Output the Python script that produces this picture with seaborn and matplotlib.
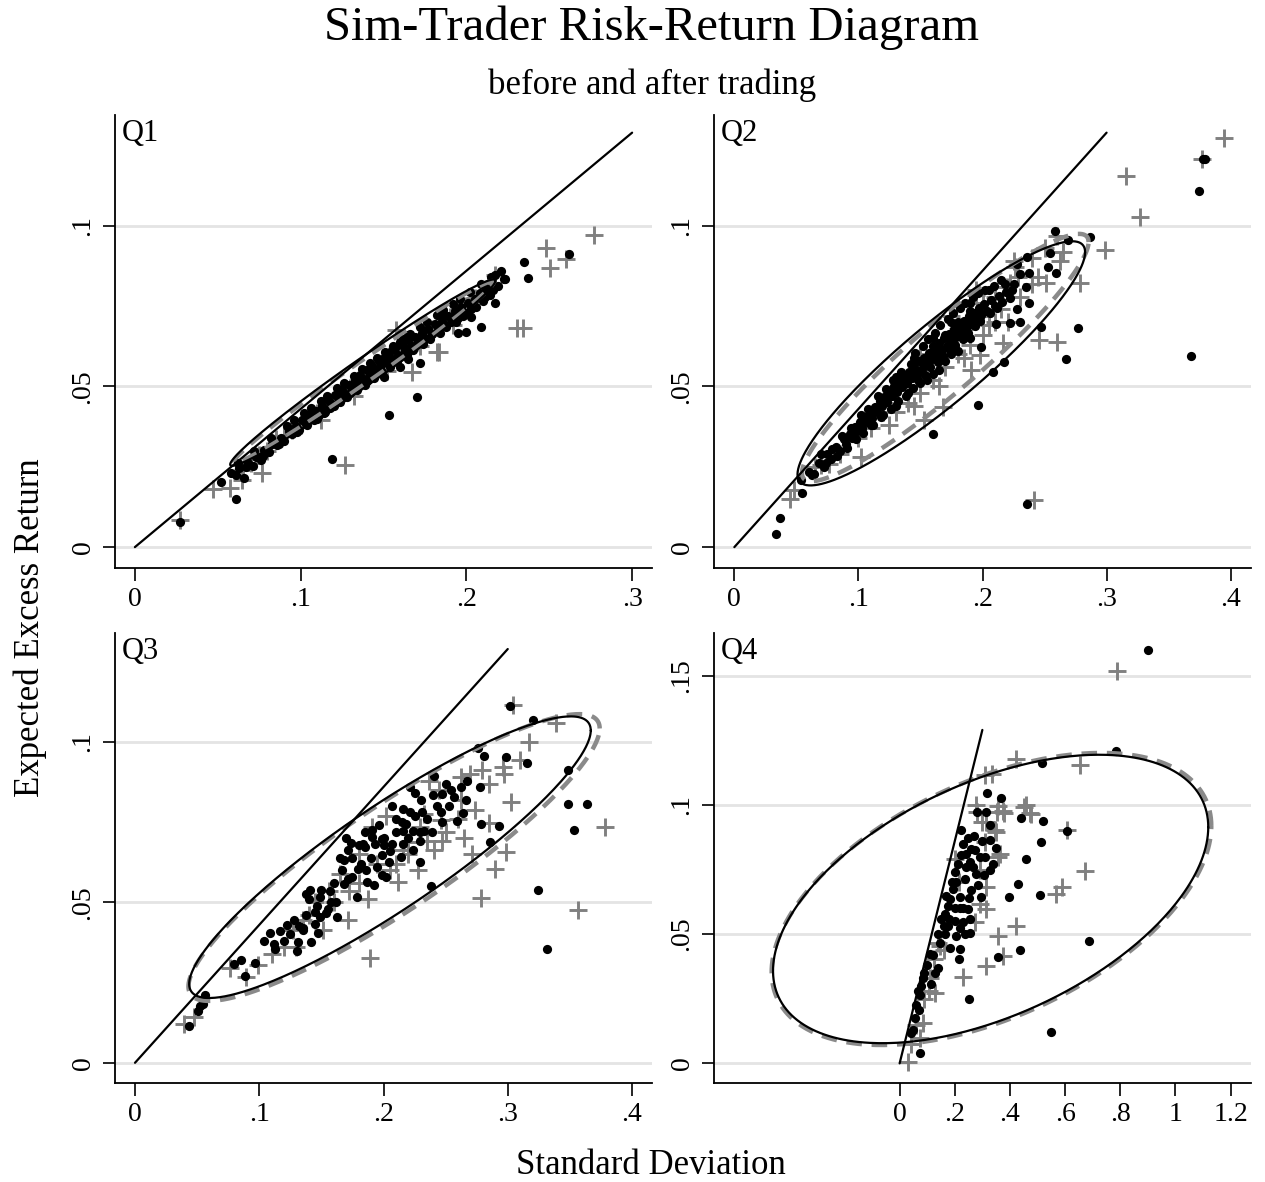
import numpy as np
import pandas as pd
import matplotlib
matplotlib.use("Agg")
import matplotlib.pyplot as plt
import seaborn as sns

sns.set_theme(style="white")
plt.rcParams['font.family'] = ['Liberation Serif', 'DejaVu Serif']
plt.rcParams['text.color'] = 'black'
plt.rcParams['xtick.color'] = 'black'
plt.rcParams['ytick.color'] = 'black'
plt.rcParams['axes.labelcolor'] = 'black'

# ---------------- data ----------------
panel_names = ["Q1", "Q2", "Q3", "Q4"]

# black dots (after trading)
q1_dot = [(0.027, 0.0078), (0.052, 0.0203), (0.061, 0.0151), (0.058, 0.0232), (0.061, 0.0226), (0.063, 0.0245),
          (0.066, 0.0215), (0.068, 0.0262), (0.071, 0.0252), (0.073, 0.0281), (0.076, 0.0270), (0.078, 0.0302),
          (0.081, 0.0296), (0.083, 0.0320), (0.086, 0.0318), (0.088, 0.0340), (0.090, 0.0331), (0.093, 0.0362),
          (0.095, 0.0352), (0.097, 0.0378), (0.099, 0.0366), (0.101, 0.0395), (0.103, 0.0382), (0.105, 0.0410),
          (0.107, 0.0398), (0.109, 0.0425), (0.111, 0.0412), (0.113, 0.0440), (0.115, 0.0428), (0.117, 0.0455),
          (0.119, 0.0445), (0.121, 0.0472), (0.123, 0.0458), (0.125, 0.0490), (0.127, 0.0476), (0.129, 0.0505),
          (0.131, 0.0492), (0.133, 0.0522), (0.134, 0.0508), (0.136, 0.0535), (0.138, 0.0520), (0.140, 0.0550),
          (0.141, 0.0532), (0.143, 0.0563), (0.145, 0.0548), (0.147, 0.0578), (0.148, 0.0560), (0.150, 0.0590),
          (0.152, 0.0572), (0.153, 0.0605), (0.155, 0.0585), (0.157, 0.0620), (0.159, 0.0598), (0.161, 0.0628),
          (0.163, 0.0610), (0.165, 0.0645), (0.167, 0.0625), (0.169, 0.0655), (0.171, 0.0640), (0.173, 0.0668),
          (0.175, 0.0652), (0.177, 0.0680), (0.179, 0.0662), (0.181, 0.0695), (0.183, 0.0675), (0.185, 0.0705),
          (0.187, 0.0688), (0.189, 0.0720), (0.191, 0.0700), (0.193, 0.0735), (0.195, 0.0712), (0.197, 0.0748),
          (0.199, 0.0728), (0.201, 0.0760), (0.203, 0.0742), (0.205, 0.0772), (0.208, 0.0790), (0.210, 0.0765),
          (0.212, 0.0805), (0.214, 0.0785), (0.217, 0.0847), (0.223, 0.0833), (0.217, 0.0759), (0.209, 0.0684),
          (0.195, 0.0665), (0.200, 0.0670), (0.203, 0.0717), (0.170, 0.0468), (0.1535, 0.0411), (0.119, 0.0273),
          (0.2348, 0.0889), (0.237, 0.0837), (0.262, 0.0912), (0.2234, 0.0834), (0.172, 0.0572), (0.165, 0.0585),
          (0.160, 0.0560), (0.150, 0.0530), (0.120, 0.0440), (0.125, 0.0465), (0.130, 0.0480), (0.135, 0.0500),
          (0.140, 0.0518), (0.145, 0.0540), (0.110, 0.0400), (0.115, 0.0420), (0.155, 0.0612), (0.160, 0.0640),
          (0.165, 0.0660), (0.185, 0.0720),
          (0.062, 0.0262), (0.067, 0.0250), (0.072, 0.0300), (0.077, 0.0285), (0.082, 0.0340), (0.087, 0.0322),
          (0.092, 0.0378), (0.096, 0.0395), (0.098, 0.0358), (0.102, 0.0418), (0.104, 0.0380), (0.106, 0.0432),
          (0.108, 0.0396), (0.112, 0.0455), (0.114, 0.0418), (0.116, 0.0470), (0.118, 0.0432), (0.122, 0.0494),
          (0.124, 0.0452), (0.126, 0.0510), (0.128, 0.0468), (0.132, 0.0534), (0.134, 0.0490), (0.137, 0.0553),
          (0.139, 0.0505), (0.142, 0.0572), (0.144, 0.0525), (0.146, 0.0588), (0.149, 0.0545), (0.151, 0.0606),
          (0.154, 0.0562), (0.156, 0.0625), (0.158, 0.0578), (0.162, 0.0648), (0.164, 0.0598), (0.166, 0.0662),
          (0.168, 0.0612), (0.172, 0.0685), (0.174, 0.0632), (0.176, 0.0700), (0.178, 0.0648), (0.182, 0.0722),
          (0.184, 0.0668), (0.186, 0.0738), (0.188, 0.0685), (0.192, 0.0758), (0.194, 0.0700), (0.196, 0.0772),
          (0.198, 0.0718), (0.202, 0.0795), (0.206, 0.0748), (0.209, 0.0820), (0.211, 0.0778), (0.215, 0.0840),
          (0.219, 0.0812), (0.221, 0.0860), (0.216, 0.0800), (0.143, 0.0540), (0.153, 0.0575), (0.163, 0.0620),
          (0.173, 0.0650), (0.183, 0.0690), (0.193, 0.0722), (0.133, 0.0515), (0.123, 0.0475), (0.113, 0.0430),
          (0.103, 0.0395)]

q2_dot = [(0.0339, 0.0040), (0.0367, 0.0091), (0.0543, 0.0168), (0.0537, 0.0208), (0.0622, 0.0224), (0.236, 0.0135),
          (0.1603, 0.0351), (0.1965, 0.0442), (0.2671, 0.0584), (0.277, 0.0683), (0.368, 0.0596), (0.3746, 0.1109),
          (0.3775, 0.1208), (0.3795, 0.1208), (0.2864, 0.0965), (0.2587, 0.0985), (0.2686, 0.0956), (0.236, 0.0904),
          (0.2544, 0.0915), (0.253, 0.0873), (0.2595, 0.0852), (0.2375, 0.0854), (0.2375, 0.0761), (0.2468, 0.0686),
          (0.2304, 0.0702), (0.2225, 0.0699), (0.2177, 0.0577), (0.2086, 0.0546), (0.1984, 0.0624), (0.2112, 0.0694),
          (0.2281, 0.0742),
          (0.060, 0.0235), (0.064, 0.0228), (0.068, 0.0262), (0.072, 0.0250), (0.075, 0.0290), (0.078, 0.0275),
          (0.082, 0.0312), (0.085, 0.0300), (0.088, 0.0335), (0.090, 0.0320), (0.093, 0.0352), (0.095, 0.0340),
          (0.097, 0.0375), (0.099, 0.0360), (0.101, 0.0388), (0.103, 0.0372), (0.105, 0.0405), (0.107, 0.0390),
          (0.109, 0.0418), (0.111, 0.0402), (0.113, 0.0435), (0.115, 0.0420), (0.117, 0.0455), (0.119, 0.0440),
          (0.121, 0.0468), (0.123, 0.0452), (0.125, 0.0485), (0.127, 0.0470), (0.129, 0.0500), (0.131, 0.0482),
          (0.133, 0.0515), (0.135, 0.0498), (0.137, 0.0530), (0.139, 0.0510), (0.141, 0.0545), (0.143, 0.0525),
          (0.145, 0.0560), (0.147, 0.0540), (0.149, 0.0578), (0.151, 0.0555), (0.153, 0.0590), (0.155, 0.0570),
          (0.157, 0.0605), (0.159, 0.0585), (0.161, 0.0620), (0.163, 0.0598), (0.165, 0.0635), (0.167, 0.0612),
          (0.169, 0.0650), (0.171, 0.0625), (0.173, 0.0662), (0.175, 0.0640), (0.177, 0.0678), (0.179, 0.0655),
          (0.181, 0.0690), (0.183, 0.0668), (0.185, 0.0705), (0.187, 0.0682), (0.189, 0.0718), (0.191, 0.0695),
          (0.193, 0.0730), (0.195, 0.0710), (0.197, 0.0745), (0.199, 0.0722), (0.201, 0.0758), (0.204, 0.0735),
          (0.207, 0.0770), (0.210, 0.0750), (0.213, 0.0782), (0.216, 0.0762), (0.219, 0.0795), (0.222, 0.0775),
          (0.160, 0.0540), (0.150, 0.0510), (0.140, 0.0480), (0.170, 0.0580), (0.180, 0.0610), (0.120, 0.0410),
          (0.130, 0.0440), (0.110, 0.0380), (0.190, 0.0650), (0.175, 0.0600), (0.165, 0.0550), (0.155, 0.0520),
          (0.130, 0.0530), (0.145, 0.0590), (0.160, 0.0650), (0.175, 0.0700), (0.190, 0.0760), (0.205, 0.0800),
          (0.215, 0.0830), (0.225, 0.0820), (0.230, 0.0850), (0.235, 0.0810), (0.228, 0.0880),
          (0.070, 0.0290), (0.074, 0.0262), (0.079, 0.0305), (0.083, 0.0285), (0.087, 0.0345), (0.091, 0.0310),
          (0.094, 0.0370), (0.098, 0.0335), (0.102, 0.0410), (0.104, 0.0355), (0.108, 0.0430), (0.112, 0.0380),
          (0.116, 0.0470), (0.118, 0.0405), (0.122, 0.0492), (0.126, 0.0430), (0.128, 0.0520), (0.132, 0.0455),
          (0.134, 0.0545), (0.138, 0.0470), (0.142, 0.0570), (0.144, 0.0495), (0.146, 0.0605), (0.148, 0.0520),
          (0.152, 0.0625), (0.154, 0.0535), (0.156, 0.0648), (0.158, 0.0560), (0.162, 0.0665), (0.164, 0.0575),
          (0.166, 0.0690), (0.168, 0.0595), (0.172, 0.0710), (0.174, 0.0615), (0.176, 0.0728), (0.178, 0.0630),
          (0.182, 0.0745), (0.184, 0.0648), (0.186, 0.0760), (0.188, 0.0668), (0.192, 0.0778), (0.194, 0.0688),
          (0.196, 0.0790), (0.198, 0.0705), (0.202, 0.0800), (0.206, 0.0728), (0.209, 0.0812), (0.212, 0.0745),
          (0.218, 0.0820), (0.224, 0.0800), (0.160, 0.0625), (0.150, 0.0580), (0.140, 0.0530), (0.130, 0.0495),
          (0.120, 0.0455), (0.170, 0.0660), (0.180, 0.0700), (0.190, 0.0735)]

q3_dot = [(0.0436, 0.0116), (0.0505, 0.0163), (0.0546, 0.0184), (0.056, 0.0210), (0.052, 0.0178), (0.0796, 0.0309),
          (0.0852, 0.0319), (0.0888, 0.0272), (0.0963, 0.0311), (0.1035, 0.0381), (0.109, 0.0405), (0.1123, 0.0356),
          (0.1120, 0.0370), (0.3015, 0.1111), (0.3204, 0.1068), (0.276, 0.0982), (0.2807, 0.0958), (0.2982, 0.0953),
          (0.3154, 0.0936), (0.3487, 0.0912), (0.3487, 0.0808), (0.364, 0.0808), (0.3537, 0.0725), (0.3245, 0.0540),
          (0.3315, 0.0356), (0.2932, 0.0738), (0.2857, 0.0688), (0.2788, 0.0745), (0.2774, 0.0860), (0.2669, 0.0878),
          (0.2641, 0.0779), (0.2594, 0.0754), (0.2383, 0.0550), (0.2405, 0.0894), (0.2252, 0.0842), (0.2210, 0.0860),
          (0.2397, 0.0836), (0.2470, 0.0838), (0.2544, 0.0849), (0.2660, 0.0820), (0.253, 0.0802), (0.2474, 0.0750),
          (0.2308, 0.0782), (0.2155, 0.0790), (0.2072, 0.0802), (0.2211, 0.0782), (0.2183, 0.0745), (0.2238, 0.0724),
          (0.2294, 0.0693), (0.2241, 0.0662), (0.2294, 0.0626), (0.2141, 0.0641), (0.2044, 0.0626), (0.1989, 0.0584),
          (0.2017, 0.0579), (0.192, 0.0553), (0.1864, 0.0563), (0.1795, 0.0605), (0.1739, 0.0686), (0.1711, 0.0662),
          (0.1684, 0.0631), (0.1664, 0.0600), (0.1684, 0.0558), (0.1711, 0.0574), (0.1786, 0.0517), (0.1628, 0.0454),
          (0.154, 0.0467), (0.149, 0.0456), (0.1462, 0.0488), (0.1448, 0.0433), (0.1476, 0.0404), (0.142, 0.0376),
          (0.1351, 0.0413), (0.1309, 0.0376), (0.1301, 0.0350), (0.1226, 0.0431), (0.1317, 0.0428), (0.1379, 0.0527),
          (0.1406, 0.0538), (0.1490, 0.0517), (0.1573, 0.0537), (0.1614, 0.0501), (0.1906, 0.0725), (0.1906, 0.0704),
          (0.1933, 0.0683), (0.1989, 0.0699), (0.1850, 0.0672), (0.1836, 0.0683), (0.1989, 0.0647), (0.2072, 0.0683),
          (0.2155, 0.0724), (0.2155, 0.0683), (0.2294, 0.0719), (0.2322, 0.0724), (0.2391, 0.0719), (0.2460, 0.0782),
          (0.2571, 0.0829), (0.1750, 0.0640), (0.1820, 0.0620), (0.1580, 0.0500), (0.1380, 0.0460), (0.1250, 0.0400),
          (0.1960, 0.0740), (0.2100, 0.0760), (0.2000, 0.0680), (0.1860, 0.0600),
          (0.160, 0.0560), (0.165, 0.0640), (0.170, 0.0700), (0.175, 0.0580), (0.180, 0.0680), (0.185, 0.0720),
          (0.190, 0.0640), (0.195, 0.0610), (0.200, 0.0700), (0.205, 0.0660), (0.210, 0.0720), (0.215, 0.0750),
          (0.220, 0.0700), (0.225, 0.0770), (0.230, 0.0820), (0.235, 0.0760), (0.150, 0.0540), (0.145, 0.0470),
          (0.140, 0.0510), (0.135, 0.0420), (0.155, 0.0480), (0.128, 0.0445), (0.120, 0.0380), (0.117, 0.0410),
          (0.243, 0.0800), (0.250, 0.0870), (0.262, 0.0860)]

q4_dot = [(0.9016, 0.1600), (0.7858, 0.1209), (0.5158, 0.1163), (0.5505, 0.0120), (0.6855, 0.0475), (0.6084, 0.0899),
          (0.317, 0.1045), (0.369, 0.1026), (0.282, 0.0974), (0.3145, 0.0974), (0.4415, 0.0950), (0.520, 0.0937),
          (0.5116, 0.0857), (0.4596, 0.0789), (0.4293, 0.0692), (0.3955, 0.0642), (0.508, 0.0653), (0.438, 0.0437),
          (0.3567, 0.0413), (0.2515, 0.0250), (0.0726, 0.0039), (0.0424, 0.0119),
          (0.2238, 0.0902), (0.248, 0.0870), (0.3266, 0.0922), (0.3266, 0.0863), (0.3483, 0.0835), (0.2600, 0.0830),
          (0.2721, 0.0824), (0.2903, 0.0798), (0.2238, 0.0805), (0.2540, 0.0780), (0.2395, 0.0759), (0.1996, 0.0740),
          (0.3386, 0.0772), (0.3048, 0.0727), (0.3266, 0.0750), (0.2358, 0.0714), (0.2601, 0.0672), (0.2842, 0.0690),
          (0.1935, 0.0675), (0.2964, 0.0645), (0.2177, 0.0642), (0.1814, 0.0636), (0.2479, 0.0597), (0.1754, 0.0610),
          (0.1633, 0.0578), (0.2177, 0.0600), (0.1996, 0.0552), (0.254, 0.0558), (0.1512, 0.0558), (0.1753, 0.0532),
          (0.2177, 0.0525), (0.139, 0.0500), (0.2032, 0.0493), (0.2358, 0.0500), (0.2560, 0.0505), (0.184, 0.0448),
          (0.2177, 0.0441), (0.2141, 0.0402), (0.1089, 0.0422), (0.139, 0.0370), (0.127, 0.0350), (0.115, 0.0307),
          (0.0787, 0.0298), (0.0726, 0.0266), (0.0605, 0.0227), (0.070, 0.0208), (0.0544, 0.0175), (0.0480, 0.0130),
          (0.242, 0.0811), (0.266, 0.0761), (0.1694, 0.0649), (0.2057, 0.0701), (0.2783, 0.0734), (0.2297, 0.0545),
          (0.1633, 0.0500), (0.1451, 0.0467), (0.0846, 0.0331), (0.0665, 0.0280),
          (0.190, 0.0700), (0.210, 0.0770), (0.230, 0.0850), (0.270, 0.0880), (0.300, 0.0860), (0.310, 0.0800),
          (0.250, 0.0640), (0.230, 0.0600), (0.200, 0.0600), (0.180, 0.0560), (0.160, 0.0530), (0.120, 0.0420),
          (0.100, 0.0380), (0.090, 0.0350)]

# grey plus markers (before trading)
q1_plus = [(0.0274, 0.0083), (0.0472, 0.0182), (0.0576, 0.0184), (0.0648, 0.0208), (0.0769, 0.0231), (0.1267, 0.0255),
           (0.167, 0.0546), (0.1833, 0.0608), (0.2342, 0.0681), (0.2483, 0.0930), (0.2504, 0.0868), (0.2601, 0.0896),
           (0.2768, 0.0970), (0.2175, 0.0847), (0.1573, 0.0676), (0.182, 0.0608), (0.2303, 0.0682),
           (0.065, 0.0240), (0.070, 0.0262), (0.075, 0.0288), (0.080, 0.0300), (0.085, 0.0338), (0.090, 0.0345),
           (0.095, 0.0365), (0.100, 0.0380), (0.105, 0.0400), (0.110, 0.0418), (0.115, 0.0438), (0.120, 0.0455),
           (0.125, 0.0470), (0.130, 0.0495), (0.135, 0.0510), (0.140, 0.0528), (0.145, 0.0552), (0.150, 0.0568),
           (0.155, 0.0580), (0.160, 0.0605), (0.165, 0.0622), (0.170, 0.0640), (0.175, 0.0660), (0.180, 0.0678),
           (0.185, 0.0695), (0.190, 0.0715), (0.195, 0.0735), (0.200, 0.0750), (0.205, 0.0775), (0.210, 0.0792),
           (0.214, 0.0812), (0.112, 0.0395), (0.132, 0.0470), (0.152, 0.0548), (0.172, 0.0625), (0.192, 0.0690)]

q2_plus = [(0.0447, 0.0151), (0.048, 0.0177), (0.2417, 0.0146), (0.3157, 0.1154), (0.3273, 0.1027), (0.3768, 0.1208),
           (0.3949, 0.1273), (0.2991, 0.0925), (0.2784, 0.0821), (0.260, 0.0637), (0.2459, 0.0645), (0.260, 0.0967),
           (0.2652, 0.0920), (0.2625, 0.0890), (0.229, 0.0842), (0.2445, 0.0842), (0.2515, 0.0821), (0.2205, 0.0702),
           (0.2163, 0.0634), (0.1979, 0.0598), (0.1908, 0.0551), (0.1682, 0.0437), (0.1527, 0.0395), (0.1018, 0.0281),
           (0.0763, 0.0260), (0.065, 0.0250), (0.195, 0.0785), (0.222, 0.0821), (0.2261, 0.0873),
           (0.070, 0.0255), (0.085, 0.0290), (0.100, 0.0340), (0.110, 0.0370), (0.120, 0.0420), (0.130, 0.0450),
           (0.140, 0.0500), (0.150, 0.0530), (0.160, 0.0600), (0.170, 0.0640), (0.180, 0.0680), (0.190, 0.0700),
           (0.200, 0.0760), (0.210, 0.0780), (0.220, 0.0810), (0.125, 0.0380), (0.145, 0.0440), (0.165, 0.0500),
           (0.185, 0.0590), (0.205, 0.0690), (0.175, 0.0720), (0.195, 0.0800), (0.150, 0.0600), (0.135, 0.0520),
           (0.225, 0.0890), (0.240, 0.0900), (0.250, 0.0930),
           (0.170, 0.0560), (0.180, 0.0600), (0.190, 0.0630), (0.200, 0.0660), (0.210, 0.0700), (0.160, 0.0520),
           (0.150, 0.0480), (0.140, 0.0450), (0.130, 0.0420), (0.215, 0.0740), (0.230, 0.0780), (0.240, 0.0820),
           (0.200, 0.0720), (0.185, 0.0680)]

q3_plus = [(0.0394, 0.0122), (0.0477, 0.0142), (0.0768, 0.0296), (0.0893, 0.0267), (0.099, 0.0304), (0.1892, 0.0326),
           (0.2788, 0.0514), (0.3562, 0.0475), (0.3784, 0.0735), (0.3029, 0.0813), (0.2899, 0.0605), (0.2988, 0.0657),
           (0.271, 0.0652), (0.2738, 0.0787), (0.2849, 0.0747), (0.3168, 0.1000), (0.310, 0.0945), (0.296, 0.0922),
           (0.2973, 0.0901), (0.2793, 0.0912), (0.2627, 0.0891), (0.2363, 0.0880), (0.339, 0.1059), (0.3043, 0.1117),
           (0.2474, 0.0693), (0.2405, 0.0662), (0.2275, 0.0602), (0.2114, 0.0563), (0.1878, 0.0511), (0.1711, 0.0444),
           (0.1725, 0.0537), (0.1559, 0.0537), (0.1351, 0.0444), (0.1268, 0.0413), (0.1295, 0.0361), (0.1517, 0.0413),
           (0.2017, 0.0771), (0.1906, 0.0735), (0.2197, 0.0688), (0.2155, 0.0662), (0.2294, 0.0735), (0.210, 0.0621),
           (0.2322, 0.0776), (0.2460, 0.0756), (0.2627, 0.0818), (0.1650, 0.0590), (0.1800, 0.0650), (0.1450, 0.0500),
           (0.180, 0.0560), (0.195, 0.0620), (0.205, 0.0600), (0.220, 0.0650), (0.235, 0.0690), (0.250, 0.0720),
           (0.260, 0.0760), (0.265, 0.0700), (0.160, 0.0500), (0.140, 0.0460), (0.120, 0.0360), (0.110, 0.0340),
           (0.245, 0.0850), (0.270, 0.0900), (0.285, 0.0870)]

q4_plus = [(0.2783, 0.0998), (0.3567, 0.0995), (0.3749, 0.0977), (0.4597, 0.0998), (0.4778, 0.0964), (0.3145, 0.0934),
           (0.3508, 0.0895), (0.3084, 0.0857), (0.3628, 0.0811), (0.2903, 0.0749), (0.3145, 0.0681), (0.2903, 0.0617),
           (0.3145, 0.0597), (0.2721, 0.0545), (0.4233, 0.0532), (0.3567, 0.0493), (0.3749, 0.0415), (0.3145, 0.0376),
           (0.2298, 0.0336), (0.139, 0.0467), (0.1450, 0.0455), (0.1089, 0.0331), (0.127, 0.0272), (0.0846, 0.0155),
           (0.0726, 0.0097), (0.0302, 0.0006), (0.5685, 0.0656), (0.1996, 0.0792), (0.2150, 0.0700),
           (0.7884, 0.1519), (0.6534, 0.1153), (0.6727, 0.0744), (0.589, 0.0684), (0.4219, 0.1179), (0.310, 0.1115),
           (0.335, 0.1120), (0.4733, 0.0969), (0.4515, 0.0992), (0.3537, 0.0972), (0.3794, 0.0969), (0.6084, 0.0901),
           (0.3447, 0.0901), (0.2997, 0.0934), (0.2804, 0.0972), (0.3576, 0.0798), (0.126, 0.0403), (0.1068, 0.0281),
           (0.0424, 0.0074), (0.0600, 0.0150), (0.0900, 0.0250), (0.1600, 0.0440)]

# ellipse parameters: centre x, centre y, half-range x, half-range y, correlation
ellipse_solid = {"Q1": (0.1375, 0.0543, 0.0800, 0.0290, 0.985),
                 "Q2": (0.1668, 0.0572, 0.1159, 0.0380, 0.910),
                 "Q3": (0.2052, 0.0641, 0.1616, 0.0439, 0.900),
                 "Q4": (0.3300, 0.0636, 0.7890, 0.0558, 0.498)}
ellipse_dashed = {"Q1": (0.1380, 0.0545, 0.0785, 0.0283, 0.990),
                  "Q2": (0.1700, 0.0590, 0.1155, 0.0385, 0.934),
                  "Q3": (0.2085, 0.0640, 0.1655, 0.0447, 0.900),
                  "Q4": (0.3330, 0.0636, 0.7970, 0.0565, 0.500)}

# capital market line: y = slope * x for x in [0, x_end]
cml_slope = 0.43
cml_x_end = 0.30

x_ticks = {"Q1": [0, 0.1, 0.2, 0.3], "Q2": [0, 0.1, 0.2, 0.3, 0.4],
           "Q3": [0, 0.1, 0.2, 0.3, 0.4], "Q4": [0, 0.2, 0.4, 0.6, 0.8, 1.0, 1.2]}
x_tick_labels = {"Q1": ["0", ".1", ".2", ".3"], "Q2": ["0", ".1", ".2", ".3", ".4"],
                 "Q3": ["0", ".1", ".2", ".3", ".4"], "Q4": ["0", ".2", ".4", ".6", ".8", "1", "1.2"]}
y_ticks = {"Q1": [0, 0.05, 0.1], "Q2": [0, 0.05, 0.1], "Q3": [0, 0.05, 0.1], "Q4": [0, 0.05, 0.1, 0.15]}
y_tick_labels = {"Q1": ["0", ".05", ".1"], "Q2": ["0", ".05", ".1"], "Q3": ["0", ".05", ".1"],
                 "Q4": ["0", ".05", ".1", ".15"]}
x_limits = {"Q1": (-0.012, 0.312), "Q2": (-0.0164, 0.4164), "Q3": (-0.0161, 0.4161), "Q4": (-0.673, 1.274)}
y_limits = {"Q1": (-0.0065, 0.1345), "Q2": (-0.0065, 0.1345), "Q3": (-0.0063, 0.1340), "Q4": (-0.0076, 0.1665)}

dots = {"Q1": q1_dot, "Q2": q2_dot, "Q3": q3_dot, "Q4": q4_dot}
pluses = {"Q1": q1_plus, "Q2": q2_plus, "Q3": q3_plus, "Q4": q4_plus}

# ---------------- figure ----------------
W, H = 1265, 1182
fig = plt.figure(figsize=(W / 100, H / 100), dpi=100)
fig.patch.set_facecolor("white")

boxes = {"Q1": (115, 115, 652, 568), "Q2": (714, 115, 1251, 568),
         "Q3": (115, 633, 652, 1083), "Q4": (714, 633, 1251, 1083)}

GREY = "#808080"
t = np.linspace(0, 2 * np.pi, 400)


def ellipse_frame(p):
    mx, my, ax_, ay_, rho = p
    return pd.DataFrame({"x": mx + ax_ * np.cos(t),
                         "y": my + ay_ * (rho * np.cos(t) + np.sqrt(1 - rho ** 2) * np.sin(t))})


for name in panel_names:
    l, tp, r, b = boxes[name]
    ax = fig.add_axes([l / W, 1 - b / H, (r - l) / W, (b - tp) / H])
    ax.set_facecolor("white")
    for yv in y_ticks[name]:
        ax.axhline(yv, color="#e4e4e4", lw=2.0, zorder=0)

    pdf = pd.DataFrame(pluses[name], columns=["x", "y"])
    ddf = pd.DataFrame(dots[name], columns=["x", "y"])
    sns.scatterplot(data=pdf, x="x", y="y", ax=ax, marker="+", color=GREY, s=165, linewidth=2.1, zorder=2)
    sns.scatterplot(data=ddf, x="x", y="y", ax=ax, marker="o", color="black", s=44, linewidth=0, zorder=3)

    ed = ellipse_frame(ellipse_dashed[name])
    ax.plot(ed["x"], ed["y"], color="#8a8a8a", lw=3.2, linestyle=(0, (3.5, 2.2)), zorder=4)
    es = ellipse_frame(ellipse_solid[name])
    sns.lineplot(data=es, x="x", y="y", ax=ax, sort=False, estimator=None, color="black", lw=1.6, zorder=5)

    cml = pd.DataFrame({"x": [0.0, cml_x_end], "y": [0.0, cml_slope * cml_x_end]})
    sns.lineplot(data=cml, x="x", y="y", ax=ax, sort=False, estimator=None, color="black", lw=1.6, zorder=5)

    ax.set_xlim(*x_limits[name])
    ax.set_ylim(*y_limits[name])
    ax.set_xticks(x_ticks[name])
    ax.set_xticklabels(x_tick_labels[name], fontsize=20)
    ax.set_yticks(y_ticks[name])
    ax.set_yticklabels(y_tick_labels[name], fontsize=20, rotation=90, va="center")
    ax.tick_params(axis="x", direction="out", length=9, width=1.2, color="black", pad=5, bottom=True)
    ax.tick_params(axis="y", direction="out", length=9, width=1.2, color="black", pad=5, left=True)
    ax.set_xlabel("")
    ax.set_ylabel("")
    for s in ["top", "right"]:
        ax.spines[s].set_visible(False)
    for s in ["left", "bottom"]:
        ax.spines[s].set_color("black")
        ax.spines[s].set_linewidth(1.3)
    ax.text(0.012, 0.992, name, transform=ax.transAxes, ha="left", va="top", fontsize=22, color="black")
    ax.grid(False)

fig.text(651 / W, 1 - 28 / H, "Sim-Trader Risk-Return Diagram", ha="center", va="center", fontsize=35)
fig.text(652 / W, 1 - 85 / H, "before and after trading", ha="center", va="center", fontsize=25)
fig.text(30 / W, 1 - 628 / H, "Expected Excess Return", ha="center", va="center", rotation=90, fontsize=25)
fig.text(651 / W, 1 - 1165 / H, "Standard Deviation", ha="center", va="center", fontsize=25)

fig.savefig("out.png", dpi=100, facecolor="white")
